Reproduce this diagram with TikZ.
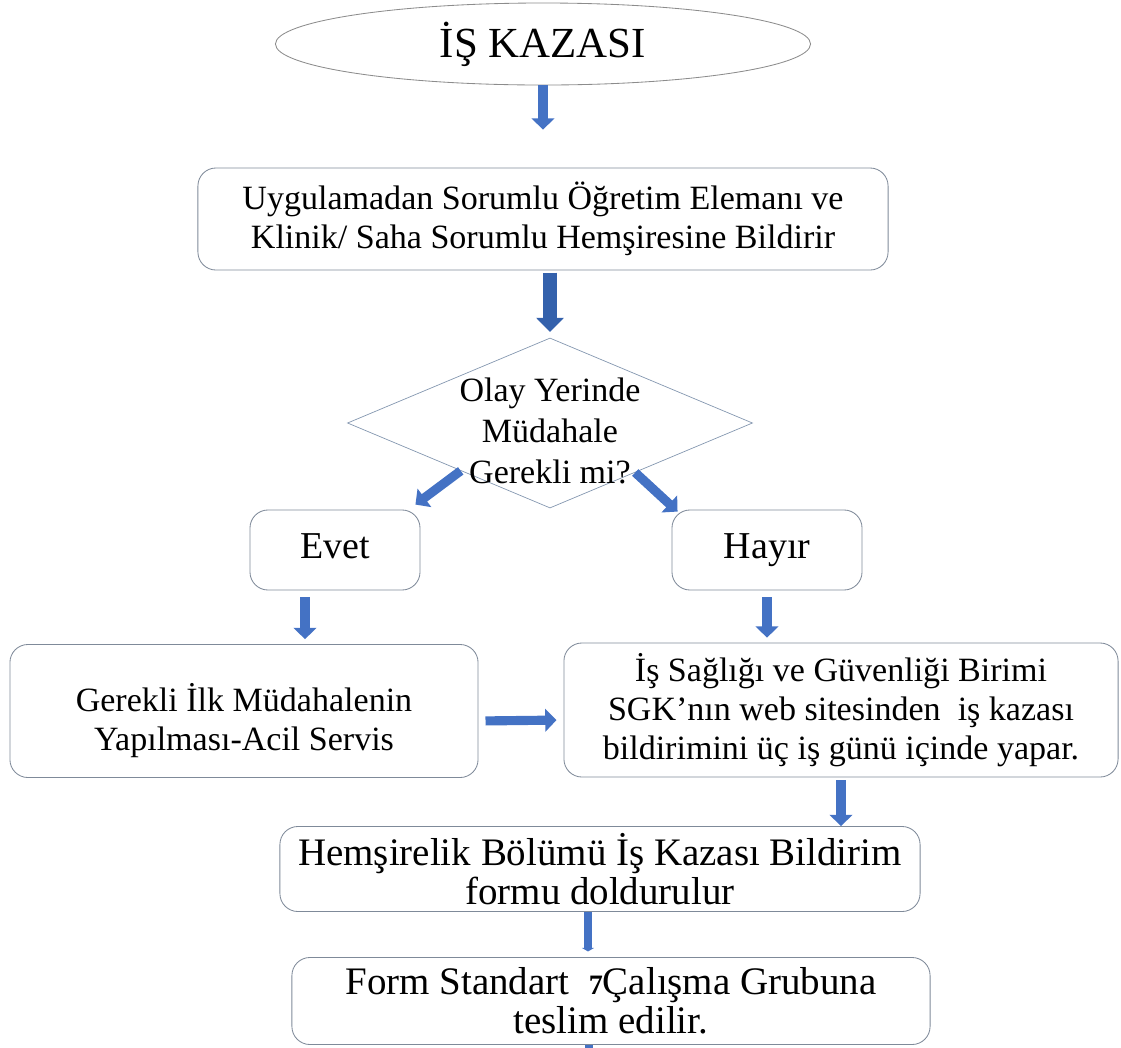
\documentclass[tikz,border=0pt]{standalone}
\usepackage{fontspec}
\setmainfont{Liberation Serif}
\usepackage{tikz}
\usetikzlibrary{
  arrows.meta, positioning, calc, shapes.geometric
}
\usepackage{xcolor}
\definecolor{okblue}{HTML}{4472C4}
\definecolor{okdark}{HTML}{3461AC}
\definecolor{kenargray}{HTML}{7F8A99}
\definecolor{elipsgray}{HTML}{8C8C8C}
\definecolor{karargray}{HTML}{8497B0}

\begin{document}
\begin{tikzpicture}[
  x=0.025cm, y=-0.025cm,
  kutu/.style={draw=kenargray, line width=0.6pt, rounded corners=0.45cm,
    align=center, inner sep=0pt, font=\fontsize{24.2}{27.5}\selectfont},
  buyukkutu/.style={kutu, font=\fontsize{27.7}{27.5}\selectfont},
  cevap/.style={draw=kenargray, line width=0.6pt, rounded corners=0.45cm,
    inner sep=0pt, font=\fontsize{27}{30}\selectfont,
    text height=1.16em, text depth=0pt},
  ok/.style={draw=okblue, line width=6.5pt,
    -{Triangle[width=16pt, length=8pt]}},
  kalinok/.style={draw=okdark, line width=10.5pt,
    -{Triangle[width=19pt, length=10pt]}},
  kisaok/.style={draw=okblue, line width=6.2pt,
    -{Triangle[width=8.5pt, length=2.5pt]}}
]
  \useasboundingbox (0,0) rectangle (1121,1048);

  % Start
  \node[ellipse, draw=elipsgray, line width=0.6pt, inner sep=0pt,
    minimum width=13.375cm, minimum height=2.05cm,
    font=\fontsize{30.5}{34}\selectfont] (kaza) at (543,44) {İŞ KAZASI};

  \node[kutu, minimum width=17.25cm, minimum height=2.55cm] (bildir) at (543,219)
    {Uygulamadan Sorumlu Öğretim Elemanı ve\\Klinik/ Saha Sorumlu Hemşiresine Bildirir};

  % Decision
  \node[diamond, draw=karargray, line width=0.5pt, inner sep=0pt,
    minimum width=10.125cm, minimum height=4.25cm] (karar) at (550,423) {};
  \node[align=center, font=\fontsize{24.2}{29}\selectfont] (kararyazi) at (550,431)
    {Olay Yerinde\\Müdahale\\Gerekli mi?};

  \node[cevap, minimum width=4.25cm, minimum height=2cm] (evet) at (335,550) {Evet};
  \node[cevap, minimum width=4.75cm, minimum height=2cm] (hayir) at (767,550) {Hayır};

  % Actions
  \node[kutu, minimum width=11.7cm, minimum height=3.325cm] (ilk) at (244,711)
    {\rule{0pt}{34pt}Gerekli İlk Müdahalenin\\Yapılması-Acil Servis};
  \node[kutu, minimum width=13.85cm, minimum height=3.35cm] (isg) at (841,710)
    {İş Sağlığı ve Güvenliği Birimi\\SGK’nın web sitesinden~~iş kazası\\bildirimini üç iş günü içinde yapar.};

  \node[buyukkutu, minimum width=16cm, minimum height=2.125cm] (form1) at (600,869)
    {Hemşirelik Bölümü İş Kazası Bildirim\\formu doldurulur};
  \node[buyukkutu, minimum width=15.95cm, minimum height=2.175cm] (form2) at (611,1001)
    {Form Standart~~{\fontsize{20}{20}\selectfont\bfseries 7}Çalışma Grubuna\\teslim edilir.};

  % Arrows
  \draw[ok, shorten >=27pt] (kaza) -- (bildir);
  \draw[kalinok, shorten <=1.5pt, shorten >=4pt] (bildir.south -| karar.north) -- (karar.north);
  \draw[ok] ($(karar.west)!0.56!(karar.south)$) -- ($(evet.north east)+(-5,-5)$);
  \draw[ok] ($(karar.south)!0.42!(karar.east)$) -- ($(hayir.north west)+(6,2)$);

  \coordinate (evetalt) at ($(evet.south)+(-30,0)$);
  \draw[ok, shorten <=5pt, shorten >=3.5pt] (evetalt) -- (evetalt |- ilk.north);
  \draw[ok, shorten <=5pt, shorten >=3.5pt] (hayir.south) -- (hayir.south |- isg.north);
  \draw[ok, shorten <=5pt, shorten >=5pt] ([yshift=-0.25cm]ilk.east) -- ([yshift=-0.25cm]isg.west);
  \draw[ok, shorten <=2pt] (isg.south) -- (isg.south |- form1.north);

  \coordinate (formalt) at ($(form1.south)+(-12,0)$);
  \draw[kisaok, shorten >=4pt] (formalt) -- (formalt |- form2.north);

  \coordinate (son) at (589,1048);
  \draw[draw=okblue, line width=6.2pt] (form2.south -| son) -- (son);
\end{tikzpicture}
\end{document}
